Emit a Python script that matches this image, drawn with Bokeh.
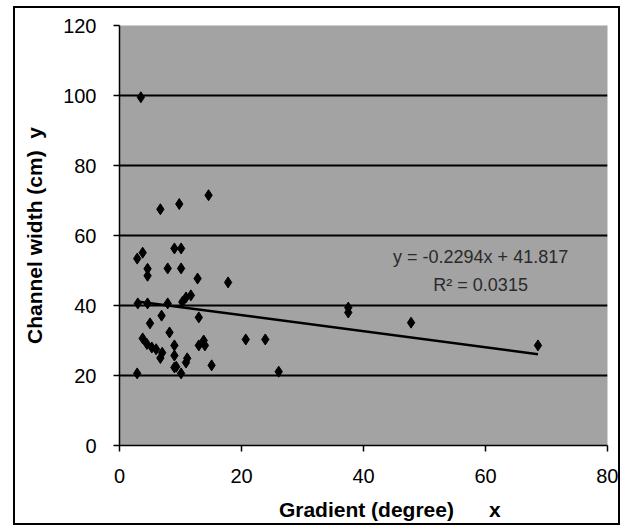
from bokeh.plotting import figure
from bokeh.layouts import column
from bokeh.models import Range1d, FixedTicker, Label, ColumnDataSource
from bokeh.embed import file_html
from bokeh.resources import INLINE

# ---- data ----
gradient = [3.5, 6.7, 9.8, 14.6, 2.9, 3.8, 4.6, 4.6, 7.9, 10.1, 9.0, 10.1, 12.8, 17.8,
            3.0, 4.6, 7.9, 10.9, 11.7, 10.3, 13.0, 6.9, 5.0, 8.2, 3.8, 4.5, 5.3, 6.0,
            7.0, 6.7, 9.0, 9.0, 9.3, 10.9, 11.1, 13.8, 13.0, 14.0, 15.1, 20.7, 23.9,
            26.1, 2.9, 10.1, 9.0, 37.5, 37.5, 47.8, 68.6]
width_cm = [99.5, 67.5, 69.0, 71.5, 53.4, 55.1, 50.5, 48.5, 50.6, 50.6, 56.3, 56.3, 47.7, 46.6,
            40.6, 40.6, 40.6, 42.3, 42.9, 41.0, 36.6, 37.1, 34.9, 32.3, 30.6, 29.0, 28.0, 27.5,
            26.5, 25.0, 28.6, 25.7, 22.5, 23.7, 24.9, 30.0, 28.6, 28.6, 22.9, 30.3, 30.3,
            21.1, 20.6, 20.6, 22.3, 39.4, 38.0, 35.1, 28.6]
slope = -0.2294
intercept = 41.817
equation_text = "y = -0.2294x + 41.817"
r2_text = "R\u00b2 = 0.0315"
x_ticks = [0, 20, 40, 60, 80]
y_ticks = [0, 20, 40, 60, 80, 100, 120]
grid_ticks = [20, 40, 60, 80, 100]

FONT = "Liberation Sans"

p = figure(frame_width=488, frame_height=420, output_backend="svg", toolbar_location=None,
           x_range=Range1d(0, 80), y_range=Range1d(0, 120),
           min_border_left=104, min_border_right=11, min_border_top=17, min_border_bottom=74)

p.background_fill_color = "#a3a3a3"
p.border_fill_color = "white"
p.outline_line_color = None

p.xgrid.visible = False
p.ygrid.ticker = FixedTicker(ticks=grid_ticks)
p.ygrid.grid_line_color = "black"
p.ygrid.grid_line_width = 2

for ax, ticks in ((p.xaxis[0], x_ticks), (p.yaxis[0], y_ticks)):
    ax.ticker = FixedTicker(ticks=ticks)
    ax.minor_tick_line_color = None
    ax.major_tick_in = 0
    ax.major_tick_out = 6
    ax.major_tick_line_color = "black"
    ax.major_tick_line_width = 1.5
    ax.axis_line_color = "black"
    ax.axis_line_width = 1.5
    ax.major_label_text_font = FONT
    ax.major_label_text_font_size = "20px"
    ax.major_label_text_color = "black"
    ax.major_label_standoff = 17
    ax.axis_label_text_font = FONT
    ax.axis_label_text_font_size = "21px"
    ax.axis_label_text_font_style = "bold"
    ax.axis_label_text_color = "black"

p.xaxis.axis_label = "\u00a0" * 9 + "Gradient (degree)" + "\u00a0" * 6 + "x"
p.xaxis.axis_label_standoff = 12
p.yaxis.axis_label = "Channel width (cm)\u00a0\u00a0y"
p.yaxis.axis_label_standoff = 14

# trendline over data range
x0, x1 = min(gradient), max(gradient)
p.line([x0, x1], [slope * x0 + intercept, slope * x1 + intercept],
       line_color="black", line_width=2.5)

src = ColumnDataSource(dict(x=gradient, y=width_cm))
p.scatter("x", "y", source=src, marker="diamond", size=11,
          fill_color="black", line_color="black")

p.add_layout(Label(x=59.2, y=53.8, text=equation_text, text_align="center",
                   text_baseline="middle", text_font=FONT, text_font_size="18px",
                   text_color="#2a2a2a"))
p.add_layout(Label(x=59.2, y=45.8, text=r2_text, text_align="center",
                   text_baseline="middle", text_font=FONT, text_font_size="18px",
                   text_color="#2a2a2a"))

layout = column(p, styles={"border": "2px solid black", "background-color": "white",
                           "margin-left": "13px", "margin-top": "6px"})

open("out.html", "w").write(file_html(layout, INLINE))
